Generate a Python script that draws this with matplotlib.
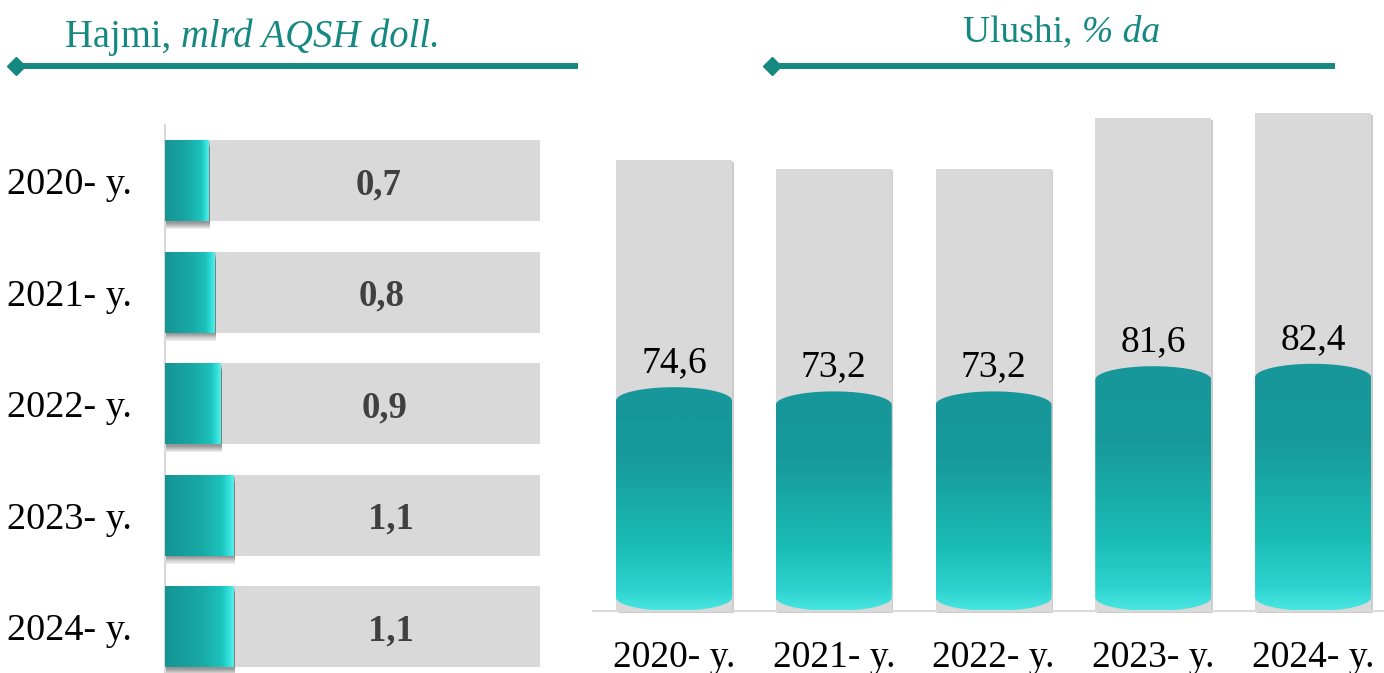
import matplotlib.pyplot as plt
import numpy as np
import matplotlib.patheffects as pe
from matplotlib.colors import LinearSegmentedColormap
from matplotlib.path import Path
from matplotlib.patches import PathPatch

plt.rcParams['font.family'] = ['Liberation Serif', 'DejaVu Serif']

years = ['2020- y.', '2021- y.', '2022- y.', '2023- y.', '2024- y.']
volume = [0.7, 0.8, 0.9, 1.1, 1.1]                 # mlrd AQSH doll.
volume_track = [6.05, 6.05, 6.05, 6.05, 6.05]
share = [74.6, 73.2, 73.2, 81.6, 82.4]             # % da
share_track = [150.3, 147.3, 147.3, 164.3, 166.0]

teal = '#168882'
track_grey = '#D9D9D9'

h_cmap = LinearSegmentedColormap.from_list('h_teal', [
    (0.0, '#159494'), (0.55, '#19ABA6'), (0.82, '#1CC2BC'),
    (0.9, '#2AD8D2'), (1.0, '#55F0EA')])
v_cmap = LinearSegmentedColormap.from_list('v_teal', [
    (0.0, '#4AE6E2'), (0.1, '#2CD3CE'), (0.3, '#1BBBB5'),
    (0.55, '#18A6A4'), (0.7, '#17999A'), (1.0, '#17979A')])


def fmt(v):
    return f'{v:.1f}'.replace('.', ',')


def capsule(xc, w, top, cap, n=60):
    a = w / 2
    t = np.linspace(0, np.pi, n)
    top_pts = np.column_stack([xc + a * np.cos(t), top - cap + cap * np.sin(t)])
    bot_pts = np.column_stack([xc - a * np.cos(t), cap - cap * np.sin(t)])
    verts = np.concatenate([top_pts, bot_pts, top_pts[:1]])
    return Path(verts, closed=True)


W, H = 1384, 673
fig = plt.figure(figsize=(W / 100, H / 100), dpi=100)


def px_axes(x0, y0, x1, y1, **kw):
    return fig.add_axes([x0 / W, 1 - y1 / H, (x1 - x0) / W, (y1 - y0) / H], **kw)


# --- left: volume, horizontal bars
ax1 = px_axes(165, 125, 541, 673)
y = np.arange(len(years))
ax1.barh(y, volume_track, height=0.726, color=track_grey, zorder=1)
bars = ax1.barh(y, volume, height=0.726, color='#18A4A0', zorder=2)
shadow = [pe.SimplePatchShadow(offset=(1.0, -k), shadow_rgbFace='black', alpha=0.07)
          for k in (0.8, 1.6, 2.4, 3.2, 4.0, 4.8, 5.6)]
grad_h = np.linspace(0, 1, 256).reshape(1, -1)
for bar in bars:
    bar.set_path_effects(shadow + [pe.Normal()])
    x0, y0, w, hh = bar.get_x(), bar.get_y(), bar.get_width(), bar.get_height()
    ax1.imshow(grad_h, cmap=h_cmap, aspect='auto',
               extent=[x0, x0 + w, y0 + hh, y0], zorder=3)

for yi, v, t in zip(y, volume, volume_track):
    ax1.text((v + t) / 2 + 0.07, yi, fmt(v), ha='center', va='center_baseline',
             fontsize=26.5, fontweight='bold', color='#404040', zorder=4)

ax1.set_xlim(0, 6.06)
ax1.set_ylim(4.413, -0.502)
ax1.set_yticks(y, years)
ax1.set_xticks([])
ax1.tick_params(axis='y', length=0, pad=23.8, labelsize=27.5)
for s in ['top', 'right', 'bottom']:
    ax1.spines[s].set_visible(False)
ax1.spines['left'].set_color(track_grey)
ax1.spines['left'].set_linewidth(1.5)

# --- right: share, vertical capsule bars
ax2 = px_axes(593, 100, 1384, 611)
x = np.arange(len(years))
tracks = ax2.bar(x, share_track, width=0.726, color=track_grey, zorder=1, clip_on=False)
for b in tracks:
    b.set_path_effects([pe.SimplePatchShadow(offset=(1.2, -1.5), shadow_rgbFace='black', alpha=0.2),
                        pe.Normal()])

grad_v = np.linspace(0, 1, 256).reshape(-1, 1)
for xi, v in zip(x, share):
    patch = PathPatch(capsule(xi, 0.726, v, 4.5), facecolor='none', edgecolor='none')
    ax2.add_patch(patch)
    im = ax2.imshow(grad_v, cmap=v_cmap, origin='lower', aspect='auto',
                    extent=[xi - 0.363, xi + 0.363, 0, v], zorder=2)
    im.set_clip_path(patch)
    ax2.annotate(fmt(v), (xi, v), xytext=(0, 10.8), textcoords='offset points',
                 ha='center', va='baseline', fontsize=27, zorder=4)

ax2.set_xlim(-0.507, 4.444)
ax2.set_ylim(0, 170.33)
ax2.set_xticks(x, years)
ax2.set_yticks([])
ax2.tick_params(axis='x', length=0, pad=21, labelsize=27)
for s in ['top', 'right', 'left']:
    ax2.spines[s].set_visible(False)
ax2.spines['bottom'].set_color(track_grey)
ax2.spines['bottom'].set_linewidth(1.5)

# --- headers with underline
ov = px_axes(0, 0, W, H, zorder=-1)
ov.set_xlim(0, W)
ov.set_ylim(H, 0)
ov.axis('off')
for x_start, x_end in [(16, 578), (772, 1335)]:
    ov.plot([x_start, x_end], [66, 66], color=teal, lw=4.3, solid_capstyle='butt')
    ov.plot([x_start], [66], marker='D', ms=9, color=teal)

t1 = ov.text(65, 47, 'Hajmi, ', fontsize=27.8, color=teal, va='baseline')
ov.annotate('mlrd AQSH doll.', xy=(1, 0), xycoords=t1, va='bottom',
            fontsize=27.8, style='italic', color=teal)
t2 = ov.text(963, 42, 'Ulushi, ', fontsize=27, color=teal, va='baseline')
ov.annotate('% da', xy=(1, 0), xycoords=t2, va='bottom',
            fontsize=27, style='italic', color=teal)

fig.savefig('out.png', dpi=100)
